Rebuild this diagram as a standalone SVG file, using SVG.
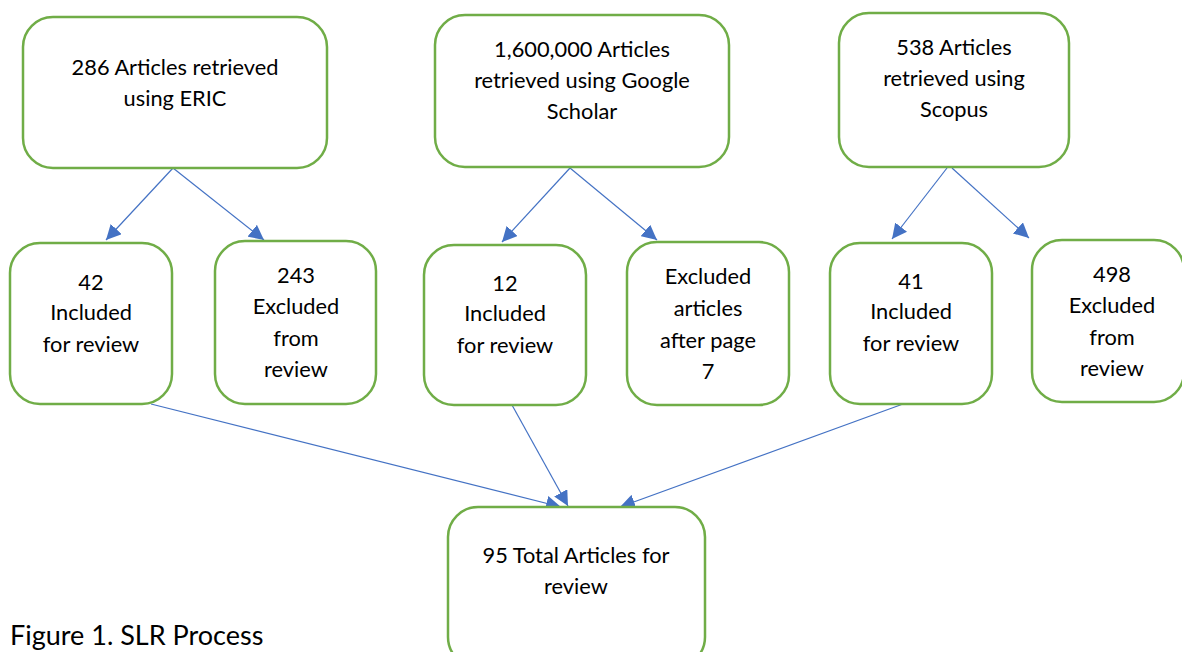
<svg xmlns="http://www.w3.org/2000/svg" width="1182" height="652" viewBox="0 0 1182 652">
<style>
.box{fill:#fff;stroke:#70AD47;stroke-width:2.5}
.t{font-family:Lato,"Open Sans","Liberation Sans",sans-serif;font-size:21.8px;fill:#000;text-anchor:middle}
.cap{font-family:Lato,"Open Sans","Liberation Sans",sans-serif;font-size:27px;fill:#000}
.c{stroke:#4472C4;stroke-width:1.2;fill:none;marker-end:url(#ah)}
</style>
<defs>
<marker id="ah" viewBox="0 0 10 10" refX="10" refY="5" markerWidth="15" markerHeight="15" markerUnits="userSpaceOnUse" orient="auto">
<path d="M0,0 L10,5 L0,10 z" fill="#4472C4"/>
</marker>
</defs>
<rect width="1182" height="652" fill="#fff"/>
<g id="connectors">
<line class="c" x1="173" y1="168" x2="106" y2="240"/>
<line class="c" x1="173" y1="168" x2="264" y2="240"/>
<line class="c" x1="570" y1="168" x2="502" y2="242"/>
<line class="c" x1="570" y1="168" x2="657" y2="240"/>
<line class="c" x1="947" y1="168" x2="892" y2="239"/>
<line class="c" x1="952" y1="168" x2="1029" y2="238"/>
<line class="c" x1="151" y1="404" x2="561" y2="507"/>
<line class="c" x1="512" y1="405" x2="568" y2="506"/>
<line class="c" x1="903" y1="404" x2="620" y2="507"/>
</g>
<g id="eric">
<rect class="box" x="23" y="17" width="304" height="151" rx="30"/>
<text class="t" x="175" y="75">286 Articles retrieved</text>
<text class="t" x="175" y="106">using ERIC</text>
</g>
<g id="google">
<rect class="box" x="435" y="15" width="294" height="152" rx="30"/>
<text class="t" x="582" y="57">1,600,000 Articles</text>
<text class="t" x="582" y="88">retrieved using Google</text>
<text class="t" x="582" y="119">Scholar</text>
</g>
<g id="scopus">
<rect class="box" x="839" y="13" width="230" height="154" rx="30"/>
<text class="t" x="954" y="55">538 Articles</text>
<text class="t" x="954" y="86">retrieved using</text>
<text class="t" x="954" y="117">Scopus</text>
</g>
<g id="inc42">
<rect class="box" x="10" y="243" width="162" height="161" rx="30"/>
<text class="t" x="91" y="290">42</text>
<text class="t" x="91" y="320">Included</text>
<text class="t" x="91" y="352">for review</text>
</g>
<g id="exc243">
<rect class="box" x="215" y="241" width="161" height="163" rx="30"/>
<text class="t" x="296" y="283">243</text>
<text class="t" x="296" y="314">Excluded</text>
<text class="t" x="296" y="346">from</text>
<text class="t" x="296" y="377">review</text>
</g>
<g id="inc12">
<rect class="box" x="424" y="245" width="162" height="160" rx="30"/>
<text class="t" x="505" y="291">12</text>
<text class="t" x="505" y="321">Included</text>
<text class="t" x="505" y="353">for review</text>
</g>
<g id="excpage7">
<rect class="box" x="627" y="242" width="162" height="163" rx="30"/>
<text class="t" x="708" y="284">Excluded</text>
<text class="t" x="708" y="316">articles</text>
<text class="t" x="708" y="348">after page</text>
<text class="t" x="708" y="379">7</text>
</g>
<g id="inc41">
<rect class="box" x="830" y="243" width="162" height="161" rx="30"/>
<text class="t" x="911" y="289">41</text>
<text class="t" x="911" y="319">Included</text>
<text class="t" x="911" y="351">for review</text>
</g>
<g id="exc498">
<rect class="box" x="1032" y="240" width="152" height="162" rx="30"/>
<text class="t" x="1112" y="282">498</text>
<text class="t" x="1112" y="313">Excluded</text>
<text class="t" x="1112" y="345">from</text>
<text class="t" x="1112" y="376">review</text>
</g>
<g id="total">
<rect class="box" x="448" y="507" width="257" height="160" rx="30"/>
<text class="t" x="576" y="563">95 Total Articles for</text>
<text class="t" x="576" y="594">review</text>
</g>
<text class="cap" x="10" y="645">Figure 1. SLR Process</text>
</svg>
